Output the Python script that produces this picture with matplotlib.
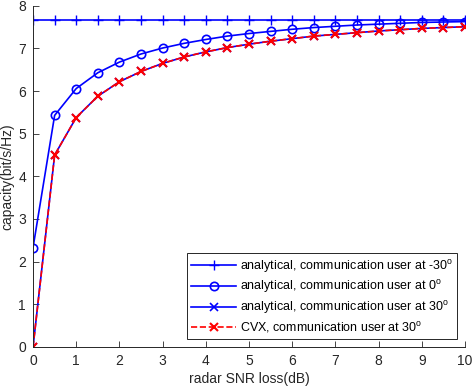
import numpy as np
import matplotlib
matplotlib.use('Agg')
import matplotlib.pyplot as plt

plt.rcParams['font.family'] = ['Liberation Sans', 'DejaVu Sans']
plt.rcParams['mathtext.fontset'] = 'custom'
plt.rcParams['mathtext.rm'] = 'Liberation Sans'

# radar SNR loss (dB)
snr_loss = [0, 0.5, 1, 1.5, 2, 2.5, 3, 3.5, 4, 4.5, 5, 5.5, 6, 6.5, 7, 7.5, 8, 8.5, 9, 9.5, 10]

cap_m30 = [7.66] * 21
cap_0 = [2.33, 5.43, 6.06, 6.43, 6.68, 6.87, 7.01, 7.12, 7.21, 7.29, 7.35,
         7.40, 7.45, 7.49, 7.52, 7.55, 7.57, 7.59, 7.61, 7.62, 7.63]
cap_30 = [0.0, 4.50, 5.38, 5.88, 6.22, 6.46, 6.65, 6.80, 6.92, 7.02, 7.10,
          7.17, 7.23, 7.29, 7.33, 7.37, 7.41, 7.44, 7.47, 7.49, 7.51]
cap_cvx = cap_30

labels = ['analytical, communication user at -30$^{\\rm o}$',
          'analytical, communication user at 0$^{\\rm o}$',
          'analytical, communication user at 30$^{\\rm o}$',
          'CVX, communication user at 30$^{\\rm o}$']

fig = plt.figure(figsize=(4.72, 3.88), dpi=100)
ax = fig.add_axes([0.07, 0.106, 0.915, 0.879])

ax.plot(snr_loss, cap_m30, color='b', marker='+', ms=7, mew=1, lw=1.2, label=labels[0])
ax.plot(snr_loss, cap_0, color='b', marker='o', ms=6, mfc='none', mew=1.2, lw=1.2, label=labels[1])
ax.plot(snr_loss, cap_30, color='b', marker='x', ms=6, mew=1.2, lw=1.2, label=labels[2])
ax.plot(snr_loss, cap_cvx, color='r', ls='--', marker='x', ms=6, mew=1.5, lw=1.2, label=labels[3])

ax.set_xlim(0, 10)
ax.set_ylim(0, 8)
ax.set_xticks(range(0, 11))
ax.set_yticks(range(0, 9))
ax.set_xlabel('radar SNR loss(dB)', fontsize=10, color='#262626', labelpad=3)
ax.set_ylabel('capacity(bit/s/Hz)', fontsize=10, color='#262626', labelpad=3)
ax.tick_params(direction='in', length=4, width=0.6, labelsize=10, colors='#262626', pad=5)
ax.spines['top'].set_visible(False)
ax.spines['right'].set_visible(False)
for s in ['left', 'bottom']:
    ax.spines[s].set_color('#262626')
    ax.spines[s].set_linewidth(0.7)

leg = ax.legend(loc='lower right', fontsize=9, fancybox=False, edgecolor='#262626',
                framealpha=1, handlelength=3.6, borderpad=0.35, labelspacing=0.3,
                handletextpad=0.3, borderaxespad=0.6)
leg.get_frame().set_linewidth(0.7)

fig.savefig('out.png', dpi=100)
